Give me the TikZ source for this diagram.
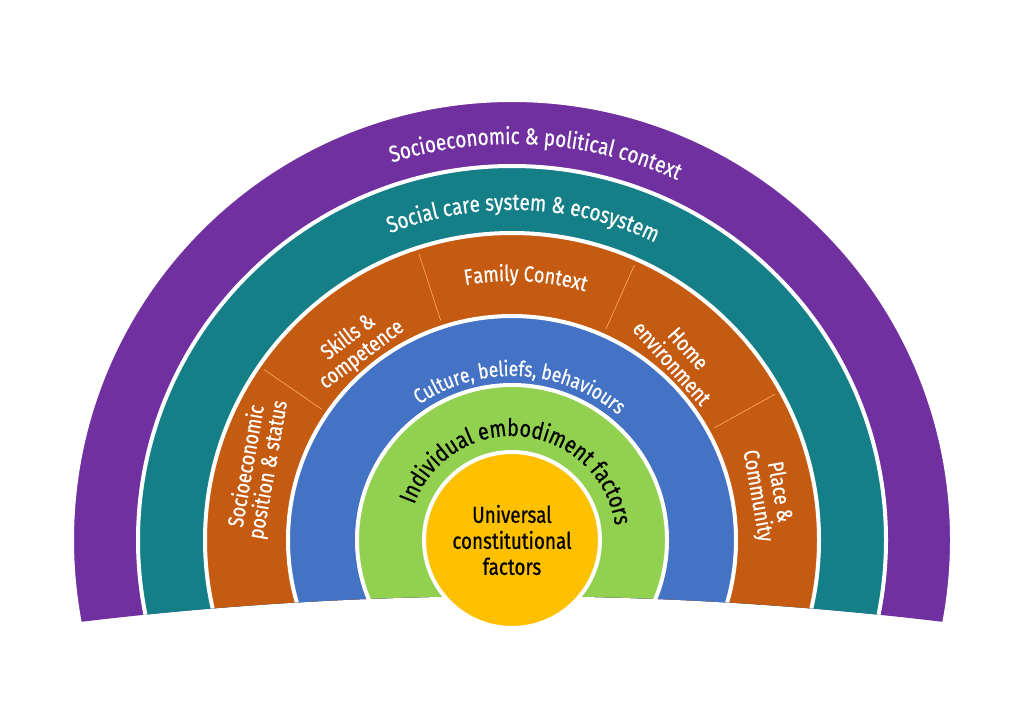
\documentclass[tikz,border=0pt]{standalone}
\usepackage{fontspec}
\setmainfont{Fira Sans}[FakeStretch=0.82, FakeBold=0.6]
\usetikzlibrary{decorations.text}
\definecolor{cpurple}{HTML}{7030A0}
\definecolor{cteal}{HTML}{147F87}
\definecolor{corange}{HTML}{C55A11}
\definecolor{cblue}{HTML}{4472C4}
\definecolor{cgreen}{HTML}{92D050}
\definecolor{cyellow}{HTML}{FFC000}
\tikzset{
  band/.style={fill=#1, draw=white, line width=4pt},
  divider/.style={draw=orange!60!white, line width=0.6pt},
  lbl/.style={text=white, font=\fontsize{22}{22}\selectfont, align=center, inner sep=0pt},
}
\newcommand{\arctext}[5]{% radius, centre angle, half span, colour/size, text
  \path[decorate, decoration={text along path, text align=center, text={|#4|#5}}]
    (C) ++(#2+#3:#1) arc[start angle=#2+#3, end angle=#2-#3, radius=#1];}
\begin{document}
\begin{tikzpicture}[x=1pt,y=1pt]
\useasboundingbox (0,0) rectangle (1024,724);
\coordinate (C) at (512,184);
\begin{scope}
  \clip (0,724) -- (0,91.5) arc[start angle=98.15, end angle=81.85, radius=3611] -- (1024,724) -- cycle;
  \fill[band=cpurple] (C) circle[radius=440];
  \fill[band=cteal] (C) circle[radius=374];
  \fill[band=corange] (C) circle[radius=307];
  \fill[band=cblue] (C) circle[radius=224];
  \fill[band=cgreen] (C) circle[radius=155];
\end{scope}
% dividers
\foreach \a in {145.5,108,66,29}
  \draw[divider] (C) ++(\a:231) -- ++(\a:70);
\node[band=cyellow, circle, minimum size=176pt, inner sep=0pt, font=\fontsize{23}{26}\selectfont, align=center] (core) at (C) {Universal\\constitutional\\factors};
% arc texts
\arctext{396}{86.5}{60}{\color{white}\fontsize{23}{23}\selectfont}{Socioeconomic {\&} political context}
\arctext{330}{88}{60}{\color{white}\fontsize{23}{23}\selectfont}{Social care system {\&} ecosystem}
\arctext{259}{87}{40}{\color{white}\fontsize{22}{22}\selectfont}{Family Context}
\arctext{164}{87}{75}{\color{white}\fontsize{21}{21}\selectfont}{Culture, beliefs, behaviours}
\arctext{104}{84}{85}{\color{black}\fontsize{24}{24}\selectfont}{Individual embodiment factors}
% segment labels
\node[lbl, rotate=80] (sps) at (258,256) {Socioeconomic\\position \& status};
\node[lbl, rotate=37] (sc) at (355,378) {Skills \&\\competence};
\node[lbl, rotate=-48] (he) at (680,368) {Home\\environment};
\node[lbl, rotate=-80] (pc) at (768,230) {Place \&\\Community};
\end{tikzpicture}
\end{document}
